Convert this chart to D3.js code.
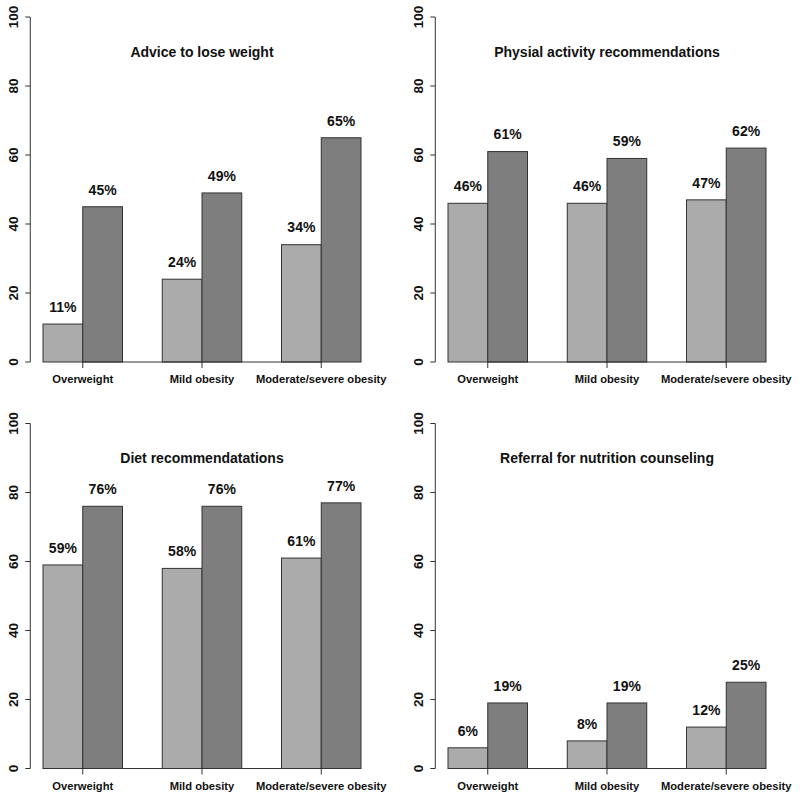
<!DOCTYPE html>
<html>
<head>
<meta charset="utf-8">
<script src="https://cdn.jsdelivr.net/npm/d3@7"></script>
<style>
  html, body { margin: 0; padding: 0; background: #fff; }
  svg { display: block; }
  text { font-family: "Liberation Sans", Arial, Helvetica, sans-serif; font-weight: bold; fill: #111; }
</style>
</head>
<body>
<svg id="chart" width="800" height="798"></svg>
<script>
// ---- Data ----
const categories = ["Overweight", "Mild obesity", "Moderate/severe obesity"];
const titles = [
  "Advice to lose weight",
  "Physial activity recommendations",
  "Diet recommendatations",
  "Referral for nutrition counseling"
];
const lightValues = [
  [11, 24, 34],
  [46, 46, 47],
  [59, 58, 61],
  [6, 8, 12]
];
const darkValues = [
  [45, 49, 65],
  [61, 59, 62],
  [76, 76, 77],
  [19, 19, 25]
];
const yTicks = [0, 20, 40, 60, 80, 100];

// ---- Layout ----
const svg = d3.select("#chart");
const panelOffsets = [[0, 0], [405, 0], [0, 406.5], [405, 406.5]];
const lightColor = "#ABABAB";
const darkColor = "#7E7E7E";
const lineColor = "#333";

// x in barplot units: light bar of group i spans [1+3i, 2+3i], dark [2+3i, 3+3i]
const x = d3.scaleLinear().domain([1, 9]).range([43, 361]);
const y = d3.scaleLinear().domain([0, 100]).range([362, 17]);
const xMin = 0.68, xMax = 9.32;

titles.forEach((title, p) => {
  const [ox, oy] = panelOffsets[p];
  const g = svg.append("g").attr("transform", `translate(${ox},${oy})`);

  const rows = categories.map((c, i) => ({
    cat: c,
    i: i,
    light: lightValues[p][i],
    dark: darkValues[p][i]
  }));

  // bars
  const bars = [];
  rows.forEach(r => {
    bars.push({ u0: 1 + 3 * r.i, v: r.light, color: lightColor });
    bars.push({ u0: 2 + 3 * r.i, v: r.dark, color: darkColor });
  });

  g.selectAll("rect.bar").data(bars).enter().append("rect")
    .attr("class", "bar")
    .attr("x", d => x(d.u0))
    .attr("width", d => x(d.u0 + 1) - x(d.u0))
    .attr("y", d => y(d.v))
    .attr("height", d => y(0) - y(d.v))
    .attr("fill", d => d.color)
    .attr("stroke", lineColor)
    .attr("stroke-width", 1);

  // value labels
  g.selectAll("text.val").data(bars).enter().append("text")
    .attr("class", "val")
    .attr("x", d => x(d.u0 + 0.5))
    .attr("y", d => y(d.v + 5))
    .attr("dy", "0.36em")
    .attr("text-anchor", "middle")
    .attr("font-size", "14px")
    .text(d => d.v + "%");

  // x axis: line between group centers, ticks at centers
  const centers = rows.map(r => 2 + 3 * r.i);
  g.append("line")
    .attr("x1", x(centers[0])).attr("x2", x(centers[centers.length - 1]))
    .attr("y1", y(0)).attr("y2", y(0))
    .attr("stroke", lineColor).attr("stroke-width", 1);
  g.selectAll("line.xtick").data(rows).enter().append("line")
    .attr("class", "xtick")
    .attr("x1", d => x(2 + 3 * d.i)).attr("x2", d => x(2 + 3 * d.i))
    .attr("y1", y(0)).attr("y2", y(0) + 6)
    .attr("stroke", lineColor).attr("stroke-width", 1);
  g.selectAll("text.cat").data(rows).enter().append("text")
    .attr("class", "cat")
    .attr("x", d => x(2 + 3 * d.i))
    .attr("y", y(0) + 21)
    .attr("text-anchor", "middle")
    .attr("font-size", "11.2px")
    .text(d => d.cat);

  // y axis
  const ax = x(xMin);
  g.append("line")
    .attr("x1", ax).attr("x2", ax)
    .attr("y1", y(0)).attr("y2", y(100))
    .attr("stroke", lineColor).attr("stroke-width", 1);
  g.selectAll("line.ytick").data(yTicks).enter().append("line")
    .attr("class", "ytick")
    .attr("x1", ax - 5).attr("x2", ax)
    .attr("y1", d => y(d)).attr("y2", d => y(d))
    .attr("stroke", lineColor).attr("stroke-width", 1);
  g.selectAll("text.ytl").data(yTicks).enter().append("text")
    .attr("class", "ytl")
    .attr("transform", d => `translate(${ax - 12.6},${y(d)}) rotate(-90)`)
    .attr("text-anchor", "middle")
    .attr("font-size", "13.5px")
    .text(d => d);

  // title
  g.append("text")
    .attr("x", (x(xMin) + x(xMax)) / 2)
    .attr("y", y(90))
    .attr("dy", "0.36em")
    .attr("text-anchor", "middle")
    .attr("font-size", "14px")
    .text(title);
});
</script>
</body>
</html>
